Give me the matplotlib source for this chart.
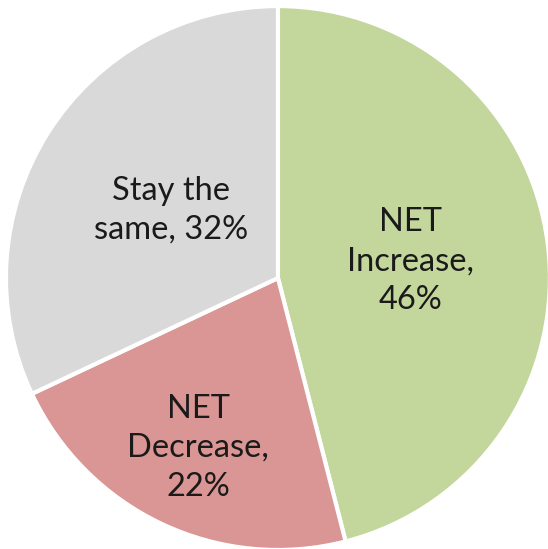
import numpy as np
import matplotlib.pyplot as plt

labels = ['NET\nIncrease,\n46%', 'NET\nDecrease,\n22%', 'Stay the\nsame, 32%']
values = [46, 22, 32]
colors = ['#C3D69B', '#D99694', '#D9D9D9']
label_dist = [0.49, 0.69, 0.465]

fig = plt.figure(figsize=(5.48, 5.49), dpi=100)
ax = fig.add_axes([0, 0, 1, 1])

wedges, _ = ax.pie(values, colors=colors, startangle=90, counterclock=False,
                   radius=1.0, wedgeprops=dict(edgecolor='white', linewidth=3))

for w, lab, d in zip(wedges, labels, label_dist):
    ang = np.deg2rad((w.theta1 + w.theta2) / 2)
    ax.text(d * np.cos(ang), d * np.sin(ang), lab, ha='center', va='center',
            fontsize=23.5, family='Lato', color='#1a1a1a', linespacing=1.38)

ax.set_xlim(-1.022, 0.993)
ax.set_ylim(-0.996, 1.022)
ax.set_aspect('equal')
ax.axis('off')

fig.savefig('out.png', dpi=100)
